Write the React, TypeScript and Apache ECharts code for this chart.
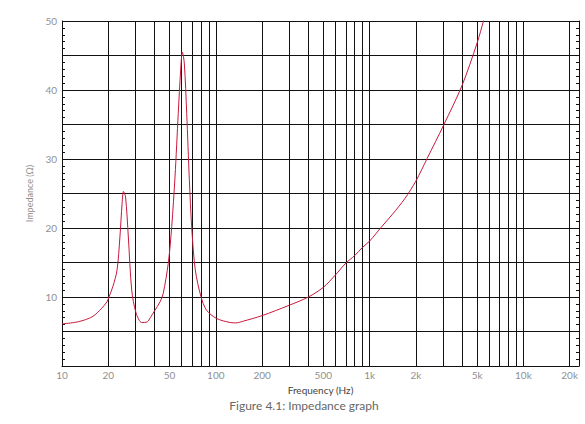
import React, { useEffect, useRef } from "react";
import * as echarts from "echarts";

const FREQ_HZ = [
  10, 12, 13.7, 15.9, 18, 19.6, 20.2, 21.4, 22.8, 23.8, 24.6, 25.1, 25.9, 27.0,
  28.4, 30.3, 33.0, 35.9, 37.5, 40, 43.4, 45.5, 49.1, 51.7, 54.3, 57.0, 59.1,
  60.6, 62.4, 64.7, 67.3, 69.9, 73.6, 80, 87, 101, 124, 135, 151, 200, 300, 400,
  500, 600, 700, 800, 900, 1000, 1200, 1410, 1700, 2000, 2370, 3030, 4000, 5000,
  5520, 6000,
];
const IMPEDANCE_OHM = [
  6.1, 6.3, 6.6, 7.2, 8.3, 9.3, 10.0, 11.5, 13.9, 18.7, 23.6, 25.3, 24.5, 18.7,
  11.0, 7.7, 6.3, 6.4, 7.0, 8.0, 9.3, 10.5, 14.9, 20.2, 27.4, 36.6, 42.9, 45.5,
  43.9, 36.6, 27.0, 19.7, 13.9, 10.1, 8.1, 6.9, 6.3, 6.25, 6.5, 7.3, 8.8, 10.0,
  11.4, 13.2, 14.9, 16.0, 17.2, 18.1, 20.2, 22.0, 24.3, 26.8, 30.1, 34.9, 40.7,
  46.8, 50.1, 53.0,
];
const GRID_FREQS = [
  20, 30, 40, 50, 60, 70, 80, 90, 100, 200, 300, 400, 500, 600, 700, 800, 900,
  1000, 2000, 3000, 4000, 5000, 6000, 7000, 8000, 9000, 10000, 20000,
];
const LABEL_FREQS = [10, 20, 50, 100, 200, 500, 1000, 2000, 5000, 10000, 20000];
const X_MIN_HZ = 10;
const X_MAX_HZ = 23000;
const Y_MIN = 0;
const Y_MAX = 50;
const Y_STEP = 5;
const CAPTION = "Figure 4.1: Impedance graph";

const lg = (v: number) => Math.log10(v);

function fmtFreq(v: number): string {
  const f = Math.round(Math.pow(10, v));
  return f >= 1000 ? f / 1000 + "k" : String(f);
}

export default function App() {
  const ref = useRef<HTMLDivElement>(null);
  useEffect(() => {
    if (!ref.current) return;
    const chart = echarts.init(ref.current, null, { renderer: "svg" });
    const font = "Lato, 'Open Sans', sans-serif";
    const tickLabel = { color: "#8f8f8f", fontSize: 10, fontFamily: font };
    chart.setOption({
      animation: false,
      graphic: [
        {
          type: "text",
          x: 304,
          y: 405,
          style: {
            text: CAPTION,
            fill: "#666",
            fontSize: 12,
            fontFamily: font,
            align: "center",
            verticalAlign: "middle",
          },
        },
      ],
      grid: {
        left: 62,
        right: 6,
        top: 21,
        bottom: 58,
        outerBoundsMode: "none",
      },
      xAxis: {
        type: "value",
        min: lg(X_MIN_HZ),
        max: lg(X_MAX_HZ),
        name: "Frequency (Hz)",
        nameLocation: "middle",
        nameGap: 14,
        nameTextStyle: { color: "#444", fontSize: 10, fontFamily: font },
        axisLine: { show: true, lineStyle: { color: "#111", width: 1 } },
        axisTick: { show: false, customValues: GRID_FREQS.map(lg) },
        axisLabel: {
          ...tickLabel,
          margin: 4,
          customValues: LABEL_FREQS.map(lg),
          formatter: (v: number) => fmtFreq(v),
        },
        splitLine: { show: true, lineStyle: { color: "#111", width: 1 } },
      },
      yAxis: [
        {
          type: "value",
          min: Y_MIN,
          max: Y_MAX,
          interval: Y_STEP,
          name: "Impedance (Ω)",
          nameLocation: "middle",
          nameGap: 25,
          nameTextStyle: { color: "#8f8f8f", fontSize: 9, fontFamily: font },
          axisLine: { show: true, lineStyle: { color: "#111", width: 1 } },
          axisTick: { show: true, inside: true, length: 3, lineStyle: { color: "#111" } },
          minorTick: { show: true, splitNumber: 5, length: 3, lineStyle: { color: "#111" } },
          axisLabel: {
            ...tickLabel,
            margin: 5,
            formatter: (v: number) => (v > 0 && v % 10 === 0 ? String(v) : ""),
          },
          splitLine: { show: true, lineStyle: { color: "#111", width: 1 } },
        },
        {
          type: "value",
          position: "right",
          min: Y_MIN,
          max: Y_MAX,
          interval: Y_STEP,
          axisLine: { show: true, lineStyle: { color: "#111", width: 1 } },
          axisTick: { show: true, inside: true, length: 3, lineStyle: { color: "#111" } },
          minorTick: { show: true, splitNumber: 5, length: 3, lineStyle: { color: "#111" } },
          axisLabel: { show: false },
          splitLine: { show: false },
        },
      ],
      series: [
        {
          type: "line",
          data: FREQ_HZ.map((f, i) => [lg(f), IMPEDANCE_OHM[i]]),
          showSymbol: false,
          smooth: 0.3,
          clip: true,
          lineStyle: { color: "#c8193c", width: 1 },
        },
      ],
    });
    return () => chart.dispose();
  }, []);
  return (
    <div
      ref={ref}
      style={{ position: "fixed", left: 0, top: 0, width: 585, height: 424, background: "#fff" }}
    />
  );
}
